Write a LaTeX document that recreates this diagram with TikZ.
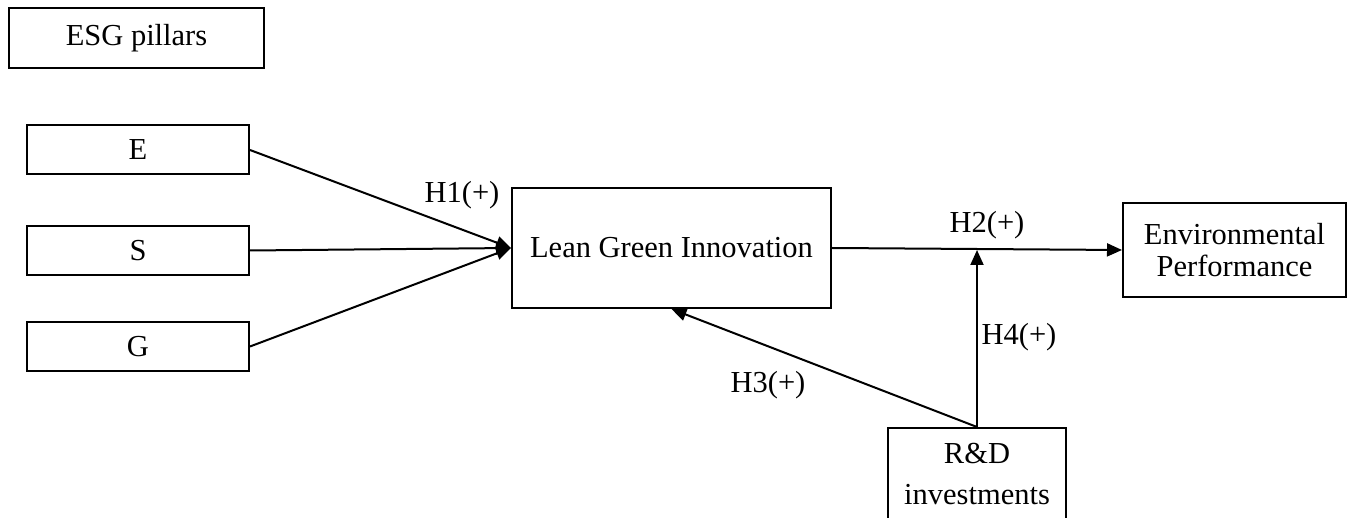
\documentclass[tikz,border=0pt]{standalone}
\usepackage{fontspec}
\setmainfont{Liberation Serif}
\usetikzlibrary{arrows.meta,positioning,calc}

\tikzset{
    varbox/.style={draw, line width=2pt, inner sep=0pt, align=center},
    hyparrow/.style={-{Triangle[length=15pt,width=13pt]}, line width=2pt},
    hyplabel/.style={inner sep=0pt}
}

\begin{document}
\begin{tikzpicture}[x=1pt, y=-1pt, font=\fontsize{30.5}{31}\selectfont]

    \clip (0,0) rectangle (1349,518);

    % title
    \node[varbox, minimum width=255pt, minimum height=60pt]
        (esg) at (136.5,38) {ESG pillars};

    % pillars
    \node[varbox, minimum width=222pt, minimum height=49pt]
        (e) at (138,150) {E};
    \node[varbox, minimum width=222pt, minimum height=49pt]
        (s) at (138,250.5) {S};
    \node[varbox, minimum width=222pt, minimum height=49pt]
        (g) at (138,346.5) {G};

    % mediator and outcome
    \node[varbox, minimum width=319pt, minimum height=120pt]
        (lgi) at (671.5,248) {Lean Green Innovation};
    \node[varbox, minimum width=223pt, minimum height=94pt]
        (ep) at (1234.5,250) {Environmental\\[1pt]Performance};

    % moderator (runs past the lower edge)
    \node[varbox, anchor=north, minimum width=178pt, inner ysep=15pt]
        (rd) at (977,427) {R\&D\\[10pt]investments\rule[-40pt]{0pt}{0pt}};

    % H1
    \draw[hyparrow]
        (e.east) --
        (lgi.west);
    \draw[hyparrow]
        (s.east) --
        (lgi.west);
    \draw[hyparrow]
        (g.east) --
        (lgi.west);
    \node[hyplabel] (h1) at (462,195) {H1(+)};

    % H2
    \draw[hyparrow]
        (lgi.east) --
        (ep.west);
    \node[hyplabel] (h2) at (987,225) {H2(+)};

    % H3
    \draw[hyparrow]
        (rd.north) --
        (lgi.south);
    \node[hyplabel] (h3) at (768,385) {H3(+)};

    % H4
    \coordinate (h2mid) at (rd.north |- ep.west);
    \draw[hyparrow]
        (rd.north) --
        (h2mid);
    \node[hyplabel] (h4) at (1019,337) {H4(+)};

\end{tikzpicture}
\end{document}
